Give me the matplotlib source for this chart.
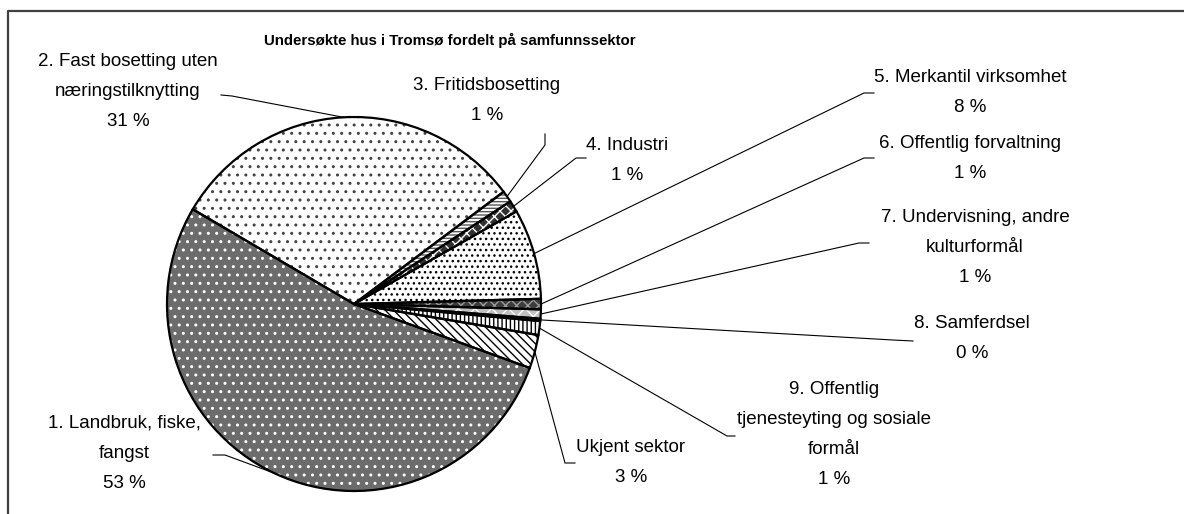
import matplotlib
matplotlib.use("Agg")
import matplotlib.pyplot as plt
import numpy as np

plt.rcParams['font.family'] = ['Liberation Sans', 'DejaVu Sans']
plt.rcParams['hatch.linewidth'] = 1.0

# data (share of houses per sector, in %)
sectors = ['1. Landbruk, fiske,\nfangst',
           '2. Fast bosetting uten\nnæringstilknytting',
           '3. Fritidsbosetting',
           '4. Industri',
           '5. Merkantil virksomhet',
           '6. Offentlig forvaltning',
           '7. Undervisning, andre\nkulturformål',
           '8. Samferdsel',
           '9. Offentlig\ntjenesteyting og sosiale\nformål',
           'Ukjent sektor']
shares = [52.9, 31.3, 1.0, 1.0, 7.8, 0.9, 0.8, 0.2, 1.2, 2.9]

# fill patterns (face colour, hatch, hatch colour)
faces = ['#6c6c6c', 'white', 'white', '#303030', 'white', '#3c3c3c', '#c0c0c0', 'white', 'white', 'white']
hatches = ['..', '..', '-----', 'xxx', '...', 'xxx', 'xx', '|||', '||||', '\\\\\\\\']
hcolors = ['white', '#444444', '#555555', 'white', 'black', '#9a9a9a', 'white', 'black', 'black', 'black']

# label placement in pixel coords: text centre x, first line y, elbow start, elbow end
label_pos = [(124, 423, (213, 455), (225, 455)),
             (128, 62, (221, 95), (232, 96)),
             (487, 85, (545, 134), (545, 145)),
             (627, 145, (586, 158), (576, 158)),
             (970, 78, (874, 93), (864, 93)),
             (970, 143, (874, 158), (864, 158)),
             (975, 218, (869, 243), (859, 243)),
             (972, 323, (913, 341), (893, 340)),
             (834, 390, (735, 436), (727, 436)),
             (631, 448, (575, 463), (565, 463))]

W, H = 1184, 514
cx, cy, r = 354, 304, 187


def Y(y):
    return H - y


fig = plt.figure(figsize=(W / 100, H / 100), dpi=100)
ax = fig.add_axes([0, 0, 1, 1])

wedges, _ = ax.pie(shares, startangle=-20, counterclock=False, center=(cx, Y(cy)),
                   radius=r, colors=faces, wedgeprops=dict(linewidth=0))
for w, h, hc in zip(wedges, hatches, hcolors):
    w.set_hatch(h)
    w.set_edgecolor(hc)
    w.set_linewidth(0)

ax.pie(shares, startangle=-20, counterclock=False, center=(cx, Y(cy)), radius=r,
       wedgeprops=dict(fill=False, edgecolor='black', linewidth=1.6))

lh = 30
for w, name, v, (tx, ty, e1, e2) in zip(wedges, sectors, shares, label_pos):
    txt = name + '\n' + f'{round(v)} %'
    lines = txt.split('\n')
    for i, line in enumerate(lines):
        ax.text(tx, Y(ty + i * lh), line, ha='center', va='center', fontsize=13.5)
    mid = np.deg2rad((w.theta1 + w.theta2) / 2)
    px, py = cx + r * np.cos(mid), Y(cy) + r * np.sin(mid)
    ax.plot([e1[0], e2[0], px], [Y(e1[1]), Y(e2[1]), py], color='black', lw=0.8)

ax.text(450, Y(40), 'Undersøkte hus i Tromsø fordelt på samfunnssektor',
        ha='center', va='center', fontsize=10.8, fontweight='bold')

# chart frame (top and left edges)
ax.plot([8, 8, W], [0, Y(10.5), Y(10.5)], color='#404040', lw=1.6)

ax.set_xlim(0, W)
ax.set_ylim(0, H)
ax.set_aspect('equal')
ax.axis('off')

fig.savefig('out.png', dpi=100)
